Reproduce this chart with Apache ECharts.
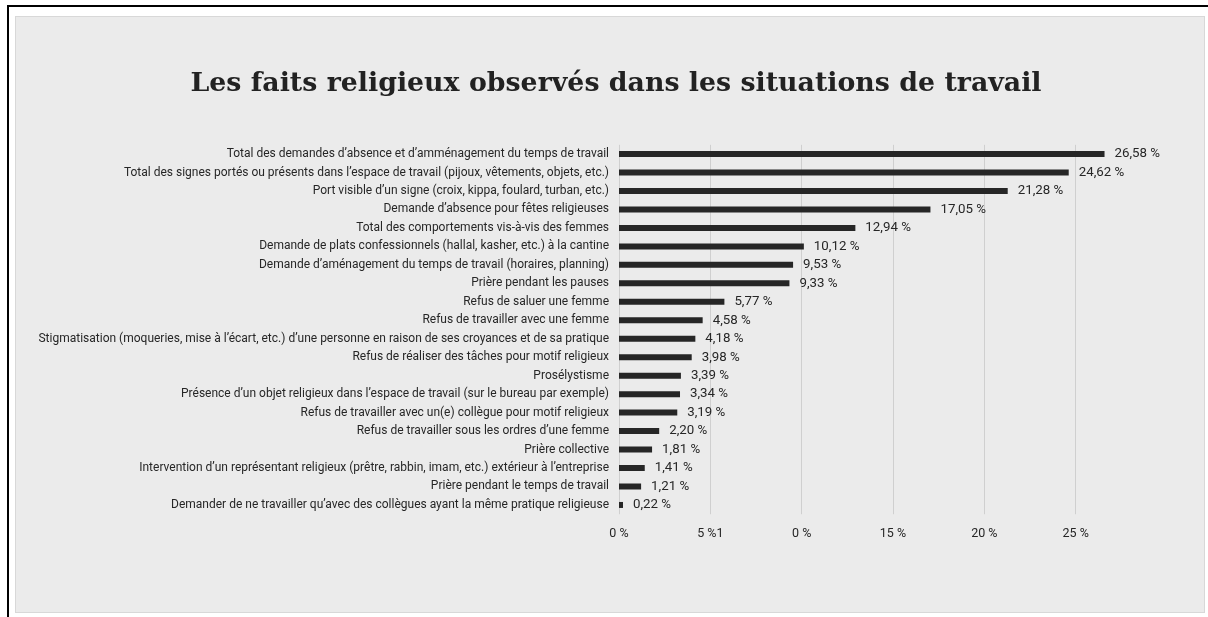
<!DOCTYPE html>
<html>
<head>
<meta charset="utf-8">
<script src="https://cdn.jsdelivr.net/npm/echarts@6/dist/echarts.min.js"></script>
<style>
  html, body { margin: 0; padding: 0; background: #ffffff; width: 1208px; height: 617px; overflow: hidden; }
  #frameTop { position: absolute; left: 7px; top: 5px; width: 1201px; height: 2px; background: #000; }
  #frameLeft { position: absolute; left: 7px; top: 5px; width: 2px; height: 612px; background: #000; }
  #panel { position: absolute; left: 15px; top: 16px; width: 1188px; height: 595px; background: #ebebeb; border: 1.5px solid #d8d8d8; }
  #chart { position: absolute; left: 0; top: 0; width: 1208px; height: 617px; }
</style>
</head>
<body>
<div id="frameTop"></div>
<div id="frameLeft"></div>
<div id="panel"></div>
<div id="chart"></div>
<script>
const titleText = "Les faits religieux observés dans les situations de travail";

const categories = [
  "Total des demandes d’absence et d’amménagement du temps de travail",
  "Total des signes portés ou présents dans l’espace de travail (pijoux, vêtements, objets, etc.)",
  "Port visible d’un signe (croix, kippa, foulard, turban, etc.)",
  "Demande d’absence pour fêtes religieuses",
  "Total des comportements vis-à-vis des femmes",
  "Demande de plats confessionnels (hallal, kasher, etc.) à la cantine",
  "Demande d’aménagement du temps de travail (horaires, planning)",
  "Prière pendant les pauses",
  "Refus de saluer une femme",
  "Refus de travailler avec une femme",
  "Stigmatisation (moqueries, mise à l’écart, etc.) d’une personne en raison de ses croyances et de sa pratique",
  "Refus de réaliser des tâches pour motif religieux",
  "Prosélystisme",
  "Présence d’un objet religieux dans l’espace de travail (sur le bureau par exemple)",
  "Refus de travailler avec un(e) collègue pour motif religieux",
  "Refus de travailler sous les ordres d’une femme",
  "Prière collective",
  "Intervention d’un représentant religieux (prêtre, rabbin, imam, etc.) extérieur à l’entreprise",
  "Prière pendant le temps de travail",
  "Demander de ne travailler qu’avec des collègues ayant la même pratique religieuse"
];

const values = [26.58, 24.62, 21.28, 17.05, 12.94, 10.12, 9.53, 9.33, 5.77, 4.58,
                4.18, 3.98, 3.39, 3.34, 3.19, 2.20, 1.81, 1.41, 1.21, 0.22];

const xTickLabels = ["0 %", "5 %1", "0 %", "15 %", "20 %", "25 %"];

const chart = echarts.init(document.getElementById('chart'), null, { renderer: 'canvas' });
const sansFont = '"Roboto", "Liberation Sans", sans-serif';

chart.setOption({
  backgroundColor: 'transparent',
  animation: false,
  title: {
    text: titleText,
    left: 611,
    top: 66,
    textAlign: 'center',
    textStyle: {
      fontFamily: '"DejaVu Serif", "Liberation Serif", serif',
      fontWeight: 'bold',
      fontSize: 26.8,
      color: '#222222'
    }
  },
  grid: {
    left: 619,
    right: 41,
    top: 144.8,
    bottom: 102.8,
    containLabel: false,
    outerBoundsMode: 'none'
  },
  xAxis: {
    type: 'value',
    min: 0,
    max: 30,
    interval: 5,
    axisLine: { show: false },
    axisTick: { show: false },
    splitLine: {
      show: true,
      lineStyle: {
        color: ['#cfcfcf', '#cfcfcf', '#cfcfcf', '#cfcfcf', '#cfcfcf', '#cfcfcf', 'rgba(0,0,0,0)'],
        width: 1
      }
    },
    axisLabel: {
      margin: 13,
      color: '#262626',
      fontFamily: sansFont,
      fontSize: 12.5,
      formatter: function (v) {
        const i = Math.round(v / 5);
        return i < xTickLabels.length ? xTickLabels[i] : '';
      }
    }
  },
  yAxis: {
    type: 'category',
    data: categories,
    inverse: true,
    axisLine: { show: false },
    axisTick: { show: false },
    axisLabel: {
      margin: 10,
      color: '#262626',
      fontFamily: sansFont,
      fontSize: 12,
      interval: 0
    }
  },
  series: [{
    type: 'bar',
    data: values,
    barWidth: 6,
    itemStyle: { color: '#262626' },
    label: {
      show: true,
      position: 'right',
      distance: 10,
      color: '#262626',
      fontFamily: sansFont,
      fontSize: 13.3,
      formatter: function (p) {
        return p.value.toFixed(2).replace('.', ',') + ' %';
      }
    }
  }]
});
</script>
</body>
</html>
